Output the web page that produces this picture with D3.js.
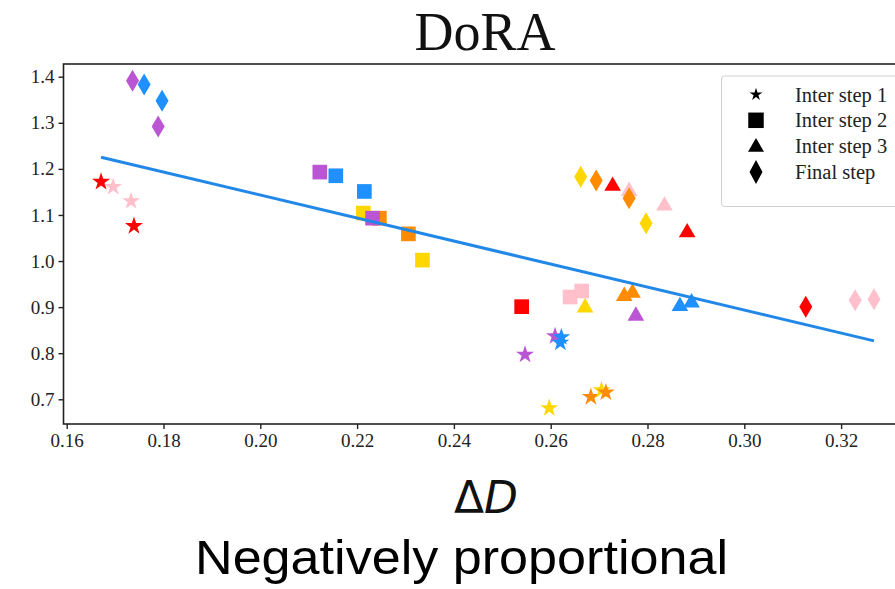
<!DOCTYPE html>
<html>
<head>
<meta charset="utf-8">
<script src="https://cdn.jsdelivr.net/npm/d3@7"></script>
<style>
  html, body { margin: 0; padding: 0; background: #fff; }
  svg { display: block; }
</style>
</head>
<body>
<script>
// ---------------- DATA ----------------
const title = "DoRA";
const xLabel = "ΔD";
const caption = "Negatively proportional";
const stepNames = ["Inter step 1", "Inter step 2", "Inter step 3", "Final step"];
const xTicks = [0.16, 0.18, 0.20, 0.22, 0.24, 0.26, 0.28, 0.30, 0.32];
const yTicks = [0.7, 0.8, 0.9, 1.0, 1.1, 1.2, 1.3, 1.4];
// group index -> colour (red, pink, gold, orange, purple, blue)
const palette = ["#ff0000", "#ffc0cb", "#ffd700", "#ff8c00", "#ba55d3", "#1e90ff"];

// Inter step 1 (stars)
const s1X = [0.1671, 0.1696, 0.1733, 0.1739, 0.2547, 0.2609, 0.2622, 0.2620, 0.2597, 0.2683, 0.2705, 0.2714];
const s1Y = [1.172, 1.161, 1.130, 1.076, 0.797, 0.837, 0.835, 0.823, 0.681, 0.705, 0.720, 0.715];
const s1G = [0, 1, 1, 0, 4, 4, 5, 5, 2, 3, 2, 3];

// Inter step 2 (squares)
const s2X = [0.2123, 0.2156, 0.2215, 0.2213, 0.2246, 0.2232, 0.2306, 0.2335, 0.2540, 0.2640, 0.2664];
const s2Y = [1.193, 1.185, 1.151, 1.104, 1.093, 1.093, 1.059, 1.002, 0.901, 0.922, 0.935];
const s2G = [4, 5, 5, 2, 3, 4, 3, 2, 0, 1, 1];

// Inter step 3 (triangles)
const s3X = [0.2728, 0.2762, 0.2835, 0.2882, 0.2671, 0.2752, 0.2769, 0.2776, 0.2867, 0.2891];
const s3Y = [1.165, 1.154, 1.122, 1.064, 0.901, 0.926, 0.933, 0.883, 0.904, 0.912];
const s3G = [0, 1, 1, 0, 2, 3, 3, 4, 5, 5];

// Final step (diamonds)
const s4X = [0.1736, 0.1760, 0.1797, 0.1789, 0.2662, 0.2694, 0.2762, 0.2797, 0.3127, 0.3229, 0.3268];
const s4Y = [1.391, 1.383, 1.348, 1.292, 1.183, 1.175, 1.136, 1.082, 0.901, 0.915, 0.917];
const s4G = [4, 5, 5, 4, 2, 3, 3, 2, 0, 1, 1];

// fitted trend line end points
const fitX = [0.1671, 0.3268];
const fitY = [1.2254, 0.8267];

// ---------------- DRAW ----------------
const W = 895, H = 589;
const svg = d3.select("body").append("svg").attr("width", W).attr("height", H);

const plot = { left: 63.5, top: 64, right: 900, bottom: 424 };
const x = d3.scaleLinear().domain([0.16, 0.32]).range([66.7, 841.1]);
const y = d3.scaleLinear().domain([0.7, 1.4]).range([399.3, 76.7]);

const serif = "'Liberation Serif', 'Times New Roman', serif";

// title
svg.append("text").attr("x", 485).attr("y", 50).attr("text-anchor", "middle")
  .style("font-family", serif).style("font-size", "54px").attr("fill", "#111").text(title);

// frame
svg.append("rect").attr("x", plot.left).attr("y", plot.top)
  .attr("width", plot.right - plot.left).attr("height", plot.bottom - plot.top)
  .attr("fill", "none").attr("stroke", "#222").attr("stroke-width", 1.6);

// axes
const xAxis = d3.axisBottom(x).tickValues(xTicks).tickFormat(d3.format(".2f")).tickSize(5).tickPadding(5);
const gx = svg.append("g").attr("transform", `translate(0,${plot.bottom})`).call(xAxis);
gx.select(".domain").remove();
gx.selectAll("line").attr("stroke", "#222").attr("stroke-width", 1.4);
gx.selectAll("text").style("font-family", serif).style("font-size", "19px").attr("fill", "#222");

const yAxis = d3.axisLeft(y).tickValues(yTicks).tickFormat(d3.format(".1f")).tickSize(5).tickPadding(4);
const gy = svg.append("g").attr("transform", `translate(${plot.left},0)`).call(yAxis);
gy.select(".domain").remove();
gy.selectAll("line").attr("stroke", "#222").attr("stroke-width", 1.4);
gy.selectAll("text").style("font-family", serif).style("font-size", "19px").attr("fill", "#222");

// marker shapes
const diamondPath = (w, h) => `M0,${-h/2}L${w/2},0L0,${h/2}L${-w/2},0Z`;
const shapes = [
  () => d3.symbol(d3.symbolStar, 100)(),
  () => d3.symbol(d3.symbolSquare, 215)(),
  () => d3.symbol(d3.symbolTriangle, 120)(),
  () => diamondPath(13, 22)
];
const shapeOffsetY = [0, 0, 1, 0];

const series = [
  { xs: s1X, ys: s1Y, gs: s1G },
  { xs: s2X, ys: s2Y, gs: s2G },
  { xs: s3X, ys: s3Y, gs: s3G },
  { xs: s4X, ys: s4Y, gs: s4G }
];

const marks = svg.append("g");
series.forEach((s, si) => {
  const pts = s.xs.map((v, i) => ({ x: v, y: s.ys[i], g: s.gs[i] }));
  marks.selectAll(null).data(pts).enter().append("path")
    .attr("d", shapes[si]())
    .attr("transform", d => `translate(${x(d.x)},${y(d.y) + shapeOffsetY[si]})`)
    .attr("fill", d => palette[d.g]);
});

// trend line
svg.append("path")
  .datum(fitX.map((v, i) => [v, fitY[i]]))
  .attr("d", d3.line().x(d => x(d[0])).y(d => y(d[1])))
  .attr("fill", "none").attr("stroke", "#2288e8").attr("stroke-width", 3);

// legend
const lg = svg.append("g");
lg.append("rect").attr("x", 721.5).attr("y", 76).attr("width", 200).attr("height", 130.5)
  .attr("rx", 3).attr("fill", "#fff").attr("stroke", "#d0d0d0").attr("stroke-width", 1);
const legendShapes = [
  () => d3.symbol(d3.symbolStar, 50)(),
  () => d3.symbol(d3.symbolSquare, 240)(),
  () => d3.symbol(d3.symbolTriangle, 110)(),
  () => diamondPath(13, 24)
];
stepNames.forEach((name, i) => {
  const cy = 94.5 + i * 25.8;
  lg.append("path").attr("d", legendShapes[i]()).attr("transform", `translate(756,${cy + (i === 2 ? 1 : 0)})`).attr("fill", "#000");
  lg.append("text").attr("x", 795).attr("y", cy).attr("dy", "0.35em")
    .style("font-family", serif).style("font-size", "20.5px").attr("fill", "#222").text(name);
});

// x label
svg.append("text").attr("x", 486).attr("y", 513).attr("text-anchor", "middle")
  .style("font-family", "'DejaVu Sans', sans-serif").style("font-size", "44px").attr("fill", "#111")
  .html('Δ<tspan font-style="italic">D</tspan>');

// caption
svg.append("text").attr("x", 461.5).attr("y", 574).attr("text-anchor", "middle")
  .attr("textLength", 533).attr("lengthAdjust", "spacingAndGlyphs")
  .style("font-family", "'Liberation Sans', Arial, sans-serif").style("font-size", "49px").attr("fill", "#000")
  .text(caption);
</script>
</body>
</html>
